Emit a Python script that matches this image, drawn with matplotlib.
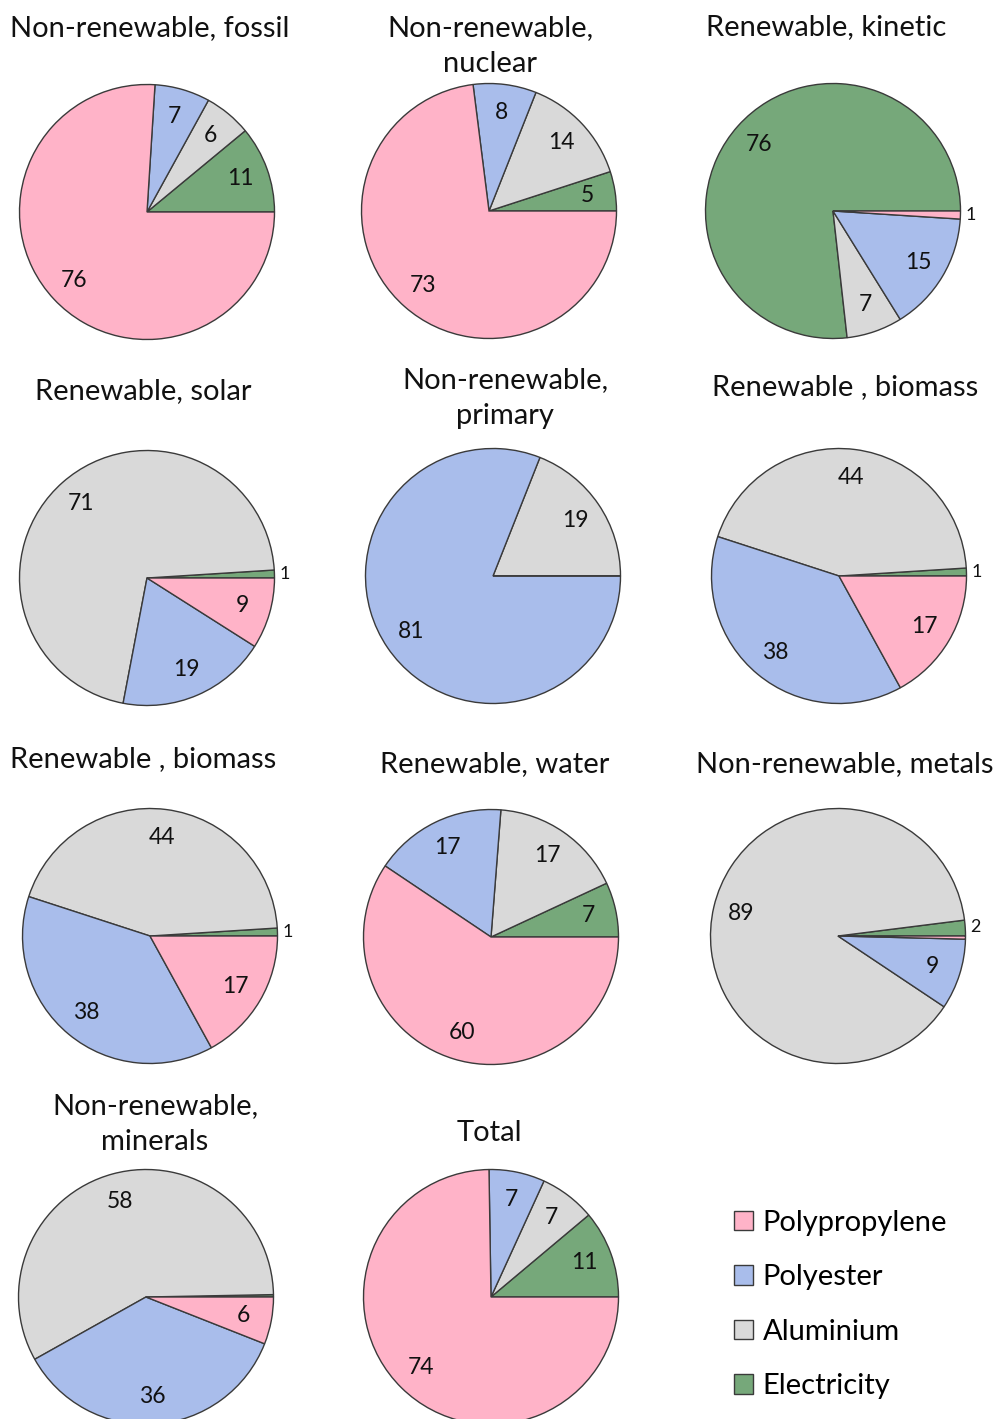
import matplotlib
matplotlib.use("Agg")
import matplotlib.pyplot as plt
from matplotlib.patches import Patch
import numpy as np

# ---------------- data ----------------
components = ["Electricity", "Aluminium", "Polyester", "Polypropylene"]  # drawing order (ccw from 3 o'clock)
legend_order = ["Polypropylene", "Polyester", "Aluminium", "Electricity"]
colors = {"Polypropylene": "#FFB3C8", "Polyester": "#A9BDEB",
          "Aluminium": "#D9D9D9", "Electricity": "#76A87A"}

titles = ["Non-renewable, fossil", "Non-renewable,\nnuclear", "Renewable, kinetic",
          "Renewable, solar", "Non-renewable,\nprimary", "Renewable , biomass",
          "Renewable , biomass", "Renewable, water", "Non-renewable, metals",
          "Non-renewable,\nminerals", "Total"]

fossil   = [11, 6, 7, 76]
nuclear  = [5, 14, 8, 73]
kinetic  = [76, 7, 15, 1]
solar    = [1, 71, 19, 9]
primary  = [0, 19, 81, 0]
biomass  = [1, 44, 38, 17]
biomass2 = [1, 44, 38, 17]
water    = [7, 17, 17, 60]
metals   = [2, 89, 9, 0.4]
minerals = [0.3, 58, 36, 6]
total    = [11, 7, 7, 74]

series = [fossil, nuclear, kinetic, solar, primary, biomass,
          biomass2, water, metals, minerals, total]

# ---------------- layout (pixels) ----------------
W, H = 997, 1419
R = 127.5
centers = [(147, 212), (489, 211), (833, 211),
           (147, 578), (493, 576), (839, 576),
           (150, 936), (491, 937), (838, 936),
           (146, 1297), (491, 1297)]
title_pos = [(150, 28), (490, 46), (826, 27),
             (143, 391), (505, 398), (845, 387),
             (143, 759), (495, 764), (845, 764),
             (155, 1124), (489, 1133)]

FONT = ["Lato", "DejaVu Sans"]
plt.rcParams["font.family"] = FONT

fig = plt.figure(figsize=(W / 100, H / 100), dpi=100)
fig.patch.set_facecolor("white")

for vals, (cx, cy), title, (tx, ty) in zip(series, centers, titles, title_pos):
    ax = fig.add_axes([(cx - R) / W, 1 - (cy + R) / H, 2 * R / W, 2 * R / H])
    wedges, _ = ax.pie(vals, colors=[colors[c] for c in components],
                       startangle=0, counterclock=True, radius=1,
                       wedgeprops=dict(edgecolor="#3a3a3a", linewidth=1.0))
    tot = sum(vals)
    ang = 0.0
    for v in vals:
        frac = v / tot * 360
        mid = np.deg2rad(ang + frac / 2)
        ang += frac
        if v < 1:
            continue
        r = 1.08 if v <= 2 else 0.78
        ax.text(r * np.cos(mid), r * np.sin(mid), f"{v:g}", ha="center", va="center",
                fontsize=16.5 if v > 2 else 13, color="#111111")
    ax.set_xlim(-1, 1)
    ax.set_ylim(-1, 1)
    ax.set_aspect("equal")
    ax.axis("off")
    fig.text(tx / W, 1 - ty / H, title, ha="center", va="center",
             fontsize=21, linespacing=1.45, color="#111111")

handles = [Patch(facecolor=colors[c], edgecolor="#3a3a3a", linewidth=1.0) for c in legend_order]
fig.legend(handles, legend_order, loc="upper left",
           bbox_to_anchor=(722 / W, 1 - 1198 / H), frameon=False,
           fontsize=21, handlelength=0.65, handleheight=0.65,
           handletextpad=0.35, labelspacing=0.98, borderaxespad=0)

fig.savefig("out.png", dpi=100, facecolor="white")
